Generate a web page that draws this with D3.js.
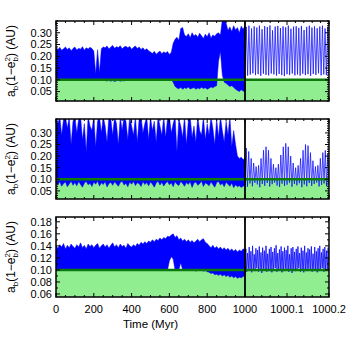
<!DOCTYPE html>
<html><head><meta charset="utf-8">
<script src="https://cdn.jsdelivr.net/npm/d3@7"></script>
<style>body{margin:0;background:#fff}svg{display:block}</style>
</head><body>
<svg id="c" width="350" height="350"></svg>
<script>
// ---- tick values / labels ----
const xTickValues = [0,200,400,600,800,1000,1000.1,1000.2];
const xTickLabels = ["0","200","400","600","800","1000","1000.1","1000.2"];
const yTicks1 = [0.05,0.10,0.15,0.20,0.25,0.30];
const yTicks2 = [0.05,0.10,0.15,0.20,0.25,0.30];
const yTicks3 = [0.06,0.08,0.10,0.12,0.14,0.16,0.18];
const threshold = 0.10;

// ---- panel 1 : envelopes 0..1000 Myr every 10 Myr ----
const upper1 = [0.235,0.228,0.238,0.226,0.232,0.240,0.229,0.236,0.224,0.233,
 0.239,0.227,0.234,0.230,0.241,0.226,0.236,0.231,0.238,0.233,
 0.222,0.125,0.228,0.130,0.232,0.240,
 0.236,0.244,0.231,0.240,0.246,0.234,0.241,0.237,0.245,0.232,0.239,0.243,0.236,0.242,0.230,0.238,0.244,0.233,0.240,0.229,0.236,0.226,0.232,0.224,
 0.218,0.212,0.221,0.209,0.216,0.222,0.211,0.219,0.214,0.220,0.208,0.217,
 0.255,0.272,0.281,0.268,0.318,0.322,0.290,0.284,0.296,0.279,0.300,0.286,0.293,0.281,0.298,0.287,0.276,0.294,0.283,0.300,0.278,0.291,0.285,0.296,
 0.300,0.290,0.355,0.360,0.340,
 0.310,0.325,0.305,0.330,0.312,0.322,0.300,0.328,0.315,0.330];
const lower1 = [0.100,0.099,0.100,0.100,0.098,0.100,0.100,0.099,0.100,0.100,0.100,0.098,0.100,0.100,0.099,0.100,0.100,0.100,0.099,0.100,0.100,0.100,0.105,0.100,0.100,0.100,
 0.097,0.095,0.098,0.094,0.097,0.093,0.096,0.098,0.094,0.097,0.095,0.099,0.100,0.100,
 0.100,0.100,0.099,0.100,0.100,0.100,0.099,0.100,0.100,0.100,0.100,0.100,0.100,0.099,0.100,0.100,0.100,0.100,0.099,0.100,0.100,0.100,
 0.090,
 0.072,0.065,0.062,0.068,0.060,0.066,0.063,0.069,0.061,0.064,0.067,0.060,0.065,0.062,0.068,0.063,0.066,0.060,0.064,0.070,0.066,0.072,0.075,
 0.180,0.220,0.120,0.090,0.085,
 0.078,0.072,0.075,0.068,0.060,0.055,0.050,0.058,0.052,0.050];
// panel 1 zoom (1000 - 1000.2 Myr): oscillation peaks and troughs
const peaks1 = [0.325,0.330,0.318,0.327,0.322,0.330,0.315,0.328,0.324,0.331,0.310,0.326,0.329,0.320,0.327,0.323,0.330,0.317,0.326,0.328,0.321,0.329,0.312,0.325,0.330,0.322,0.327,0.319,0.326,0.330,0.318,0.325];
const troughs1 = [0.125,0.118,0.122,0.128,0.120,0.124,0.117,0.126,0.121,0.119,0.127,0.123,0.118,0.125,0.120,0.116,0.124,0.121,0.127,0.119,0.123,0.118,0.126,0.120,0.124,0.117,0.125,0.121,0.128,0.119,0.123,0.120,0.126];

// ---- panel 2 ----
const upper2 = [0.37,0.34,0.37,0.29,0.36,0.37,0.32,0.37,0.25,0.35,
 0.37,0.30,0.36,0.37,0.27,0.34,0.22,0.37,0.33,0.31,
 0.37,0.24,0.35,0.37,0.30,0.37,0.33,0.26,0.37,0.36,
 0.29,0.37,0.34,0.25,0.37,0.31,0.37,0.35,0.27,0.37,
 0.33,0.29,0.37,0.26,0.36,0.37,0.30,0.34,0.37,0.27,
 0.37,0.31,0.35,0.26,0.37,0.33,0.29,0.37,0.28,0.36,
 0.37,0.30,0.34,0.37,0.22,0.36,0.33,0.28,0.37,0.25,
 0.35,0.37,0.28,0.33,0.26,0.37,0.31,0.29,0.37,0.27,
 0.34,0.29,0.37,0.32,0.25,0.36,0.28,0.37,0.31,0.26,
 0.35,0.29,0.37,0.24,0.31,0.25,0.20,0.19,0.195,0.185,0.19];
const lower2 = [0.085,0.075,0.090,0.070,0.082,0.088,0.068,0.080,0.092,0.074,
 0.086,0.072,0.090,0.078,0.066,0.084,0.091,0.076,0.083,0.069,
 0.088,0.079,0.093,0.071,0.085,0.077,0.090,0.067,0.082,0.087,
 0.074,0.089,0.080,0.070,0.086,0.092,0.075,0.083,0.068,0.088,
 0.079,0.091,0.073,0.085,0.081,0.069,0.090,0.077,0.086,0.072,
 0.088,0.080,0.066,0.084,0.092,0.075,0.087,0.071,0.083,0.090,
 0.076,0.085,0.068,0.089,0.079,0.073,0.091,0.082,0.070,0.086,
 0.078,0.090,0.065,0.084,0.088,0.074,0.081,0.093,0.069,0.085,
 0.080,0.072,0.089,0.077,0.066,0.086,0.091,0.075,0.083,0.068,
 0.087,0.079,0.070,0.084,0.064,0.076,0.068,0.072,0.065,0.070,0.074];
const peaks2 = [0.235,0.22,0.19,0.17,0.155,0.16,0.19,0.225,0.24,0.225,0.19,0.165,0.15,0.165,0.205,0.24,0.255,0.24,0.20,0.17,0.15,0.16,0.19,0.225,0.25,0.245,0.215,0.18,0.155,0.16,0.19,0.215,0.225,0.21];
const troughs2 = [0.075,0.068,0.082,0.070,0.085,0.078,0.066,0.080,0.072,0.084,0.069,0.079,0.086,0.073,0.067,0.081,0.071,0.077,0.085,0.068,0.080,0.074,0.083,0.066,0.078,0.070,0.084,0.072,0.080,0.086,0.069,0.076,0.082,0.070,0.078];

// ---- panel 3 ----
const upper3 = [0.140,0.136,0.142,0.138,0.144,0.135,0.141,0.137,0.143,0.139,
 0.136,0.142,0.138,0.145,0.137,0.141,0.135,0.143,0.139,0.142,
 0.137,0.141,0.144,0.136,0.140,0.143,0.138,0.142,0.136,0.141,
 0.145,0.138,0.142,0.137,0.143,0.139,0.141,0.136,0.144,0.140,
 0.138,0.142,0.139,0.144,0.141,0.146,0.143,0.147,0.144,0.148,
 0.146,0.150,0.147,0.151,0.149,0.153,0.150,0.154,0.152,0.156,
 0.155,0.158,0.160,0.154,0.157,0.150,0.153,0.148,0.151,0.147,
 0.150,0.146,0.149,0.145,0.148,0.151,0.147,0.150,0.152,0.146,
 0.144,0.140,0.137,0.141,0.136,0.139,0.135,0.138,0.134,0.137,
 0.133,0.136,0.132,0.135,0.131,0.134,0.130,0.133,0.131,0.135,0.134];
const lower3 = [0.100,0.100,0.099,0.100,0.100,0.100,0.100,0.099,0.100,0.100,
 0.100,0.100,0.100,0.099,0.100,0.100,0.100,0.100,0.100,0.099,
 0.100,0.100,0.100,0.100,0.099,0.100,0.100,0.100,0.100,0.100,
 0.100,0.099,0.100,0.100,0.100,0.100,0.100,0.099,0.100,0.100,
 0.100,0.100,0.100,0.100,0.099,0.100,0.100,0.100,0.100,0.100,
 0.100,0.100,0.099,0.100,0.100,0.100,0.100,0.100,0.100,0.100,
 0.115,0.122,0.118,0.100,0.100,0.100,0.112,0.100,0.100,0.100,
 0.100,0.099,0.100,0.100,0.098,0.100,0.099,0.100,0.098,0.099,
 0.097,0.096,0.094,0.095,0.092,0.093,0.091,0.093,0.090,0.092,
 0.089,0.091,0.088,0.090,0.087,0.089,0.086,0.088,0.087,0.089,0.090];
const peaks3 = [0.135,0.128,0.138,0.131,0.140,0.126,0.136,0.133,0.139,0.129,0.137,0.132,0.140,0.127,0.135,0.138,0.130,0.136,0.141,0.128,0.134,0.139,0.131,0.137,0.133,0.140,0.126,0.136,0.138,0.130,0.135,0.139,0.128,0.137,0.132,0.140,0.129,0.136,0.134,0.139,0.127,0.138,0.131,0.136,0.140,0.129,0.135,0.138,0.132,0.137];
const troughs3 = [0.100,0.097,0.102,0.099,0.096,0.101,0.098,0.103,0.097,0.100,0.095,0.102,0.099,0.097,0.101,0.098,0.096,0.100,0.103,0.097,0.099,0.101,0.096,0.098,0.102,0.100,0.097,0.099,0.095,0.101,0.098,0.100,0.103,0.097,0.099,0.096,0.101,0.098,0.102,0.100,0.097,0.099,0.101,0.096,0.098,0.100,0.103,0.097,0.099,0.101,0.098];

const panels = [
  {top:21, bottom:101, domain:[0.01,0.35], ticks:yTicks1, minor:0.01, fmt:".2f", upper:upper1, lower:lower1, peaks:peaks1, troughs:troughs1, sw:0.9},
  {top:119, bottom:199, domain:[0.015,0.36], ticks:yTicks2, minor:0.01, fmt:".2f", upper:upper2, lower:lower2, peaks:peaks2, troughs:troughs2, sw:0.9},
  {top:217, bottom:297, domain:[0.055,0.188], ticks:yTicks3, minor:0.01, fmt:".2f", upper:upper3, lower:lower3, peaks:peaks3, troughs:troughs3, sw:1.0}
];

const FONT = "'Liberation Sans', Arial, Helvetica, sans-serif";
const svg = d3.select("#c");
const L = 56, M = 245, R = 329;
const x = d3.scaleLinear().domain([0,1000,1000.2]).range([L,M,R]);
const tLeft = d3.range(0, 1001, 10);

panels.forEach((p, k) => {
  const y = d3.scaleLinear().domain(p.domain).range([p.bottom, p.top]);
  const g = svg.append("g");
  const cid = "clip" + k;
  svg.append("clipPath").attr("id", cid).append("rect")
    .attr("x", L).attr("y", p.top).attr("width", R - L).attr("height", p.bottom - p.top);
  const pg = g.append("g").attr("clip-path", `url(#${cid})`);

  // green filled region below threshold
  pg.append("rect").attr("x", L).attr("y", y(threshold)).attr("width", R - L)
    .attr("height", p.bottom - y(threshold)).attr("fill", "#90ee90");

  // long-term envelope band
  const area = d3.area().x((d,i) => x(tLeft[i])).y0((d,i) => y(p.lower[i])).y1(d => y(d));
  pg.append("path").datum(p.upper).attr("d", area)
    .attr("fill", "#0000ff").attr("stroke", "#0000ff").attr("stroke-width", 0.5);

  // zoomed oscillation
  const pts = [];
  for (let i = 0; i < p.troughs.length; i++) {
    pts.push(p.troughs[i]);
    if (i < p.peaks.length) pts.push(p.peaks[i]);
  }
  const n = pts.length;
  const tz = pts.map((d,i) => 1000 + 0.2 * i / (n - 1));
  const line = d3.line().x((d,i) => x(tz[i])).y(d => y(d));
  pg.append("path").datum(pts).attr("d", line)
    .attr("fill", "none").attr("stroke", "#1010ff").attr("stroke-width", p.sw).attr("stroke-opacity", 0.85);

  // threshold line
  pg.append("line").attr("x1", L).attr("x2", R).attr("y1", y(threshold)).attr("y2", y(threshold))
    .attr("stroke", "#0b7a0b").attr("stroke-width", 2.6);

  // vertical break line
  g.append("line").attr("x1", x(1000)).attr("x2", x(1000)).attr("y1", p.top).attr("y2", p.bottom)
    .attr("stroke", "#000").attr("stroke-width", 1.8);

  // ticks (inward, all sides)
  const tg = g.append("g").attr("stroke", "#000").attr("stroke-width", 1);
  const xMinor = d3.range(0, 1001, 50).concat(d3.range(1, 11).map(i => 1000 + i * 0.02));
  const xMajor = xTickValues;
  xMinor.forEach(v => {
    const isMaj = xMajor.some(m => Math.abs(m - v) < 1e-6);
    const len = isMaj ? 4 : 2;
    const xx = x(v);
    tg.append("line").attr("x1", xx).attr("x2", xx).attr("y1", p.bottom).attr("y2", p.bottom - len);
    tg.append("line").attr("x1", xx).attr("x2", xx).attr("y1", p.top).attr("y2", p.top + len);
  });
  const yMinor = d3.range(Math.ceil(p.domain[0] / p.minor - 1e-6), Math.floor(p.domain[1] / p.minor + 1e-6) + 1).map(i => i * p.minor);
  yMinor.forEach(v => {
    const isMaj = p.ticks.some(m => Math.abs(m - v) < 1e-6);
    const len = isMaj ? 4 : 2;
    const yy = y(v);
    tg.append("line").attr("x1", L).attr("x2", L + len).attr("y1", yy).attr("y2", yy);
    tg.append("line").attr("x1", R).attr("x2", R - len).attr("y1", yy).attr("y2", yy);
  });

  // frame
  g.append("rect").attr("x", L).attr("y", p.top).attr("width", R - L).attr("height", p.bottom - p.top)
    .attr("fill", "none").attr("stroke", "#000").attr("stroke-width", 1.5);

  // y tick labels
  p.ticks.forEach(v => {
    g.append("text").attr("x", L - 4).attr("y", y(v)).attr("dy", "0.35em")
      .attr("text-anchor", "end").attr("font-family", FONT).attr("font-size", 11)
      .text(d3.format(p.fmt)(v));
  });

  // y label
  const cy = (p.top + p.bottom) / 2;
  const t = g.append("text").attr("transform", `translate(15,${cy}) rotate(-90)`)
    .attr("text-anchor", "middle").attr("font-family", FONT).attr("font-size", 12);
  t.append("tspan").text("a");
  t.append("tspan").attr("font-size", 8).attr("dy", 3).text("b");
  t.append("tspan").attr("dy", -3).text("(1\u2212e");
  t.append("tspan").attr("font-size", 8).attr("dy", 3).text("b");
  t.append("tspan").attr("font-size", 8).attr("dx", -4.5).attr("dy", -8).text("2");
  t.append("tspan").attr("dy", 5).text(") (AU)");
});

// x tick labels
xTickValues.forEach((v, i) => {
  svg.append("text").attr("x", x(v)).attr("y", 313).attr("text-anchor", "middle")
    .attr("font-family", FONT).attr("font-size", 11).text(xTickLabels[i]);
});
svg.append("text").attr("x", (L + M) / 2).attr("y", 328).attr("text-anchor", "middle")
  .attr("font-family", FONT).attr("font-size", 11.5).text("Time (Myr)");
</script>
</body></html>
